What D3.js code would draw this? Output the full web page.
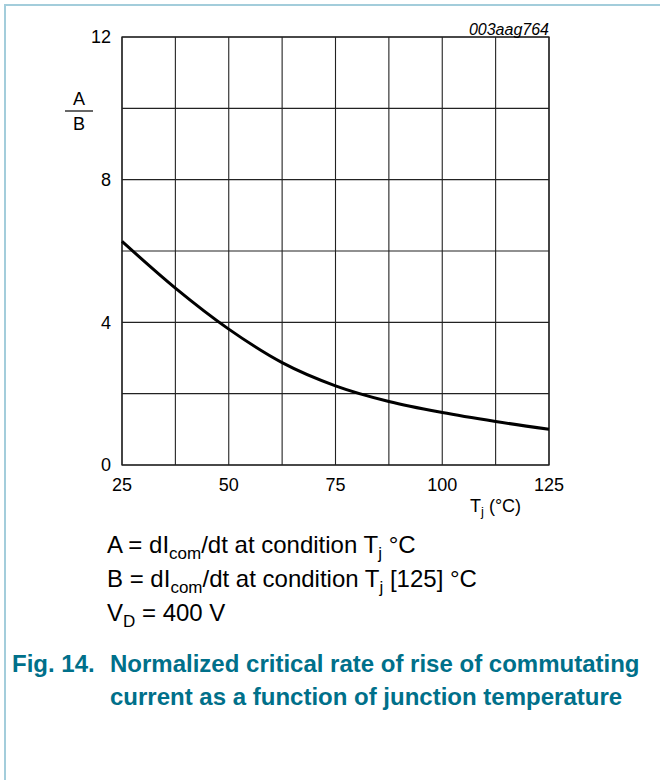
<!DOCTYPE html>
<html><head><meta charset="utf-8">
<script src="https://cdn.jsdelivr.net/npm/d3@7"></script>
<style>body{margin:0;background:#fff}svg{display:block}text{font-family:Arial,"Liberation Sans",sans-serif}</style>
</head><body>
<svg id="c" width="660" height="780"></svg>
<script>
const temps = [25, 37.5, 50, 62.5, 75, 87.5, 100, 112.5, 125];
const ratio = [6.27, 4.96, 3.81, 2.87, 2.22, 1.78, 1.47, 1.22, 1.0];
const xTickLabels = [25, 50, 75, 100, 125];
const yTickLabels = [0, 4, 8, 12];
const xGrid = [25, 37.5, 50, 62.5, 75, 87.5, 100, 112.5, 125];
const yGrid = [0, 2, 4, 6, 8, 10, 12];

const svg = d3.select("#c");
const L = 122, R = 549, T = 37, B = 465;
const x = d3.scaleLinear().domain([25, 125]).range([L, R]);
const y = d3.scaleLinear().domain([0, 12]).range([B, T]);

// page frame
svg.append("line").attr("x1", 4).attr("x2", 660).attr("y1", 5).attr("y2", 5).attr("stroke", "#a3cddb").attr("stroke-width", 2);
svg.append("line").attr("x1", 5).attr("x2", 5).attr("y1", 4).attr("y2", 780).attr("stroke", "#a3cddb").attr("stroke-width", 2);

// grid
svg.append("g").selectAll("line").data(xGrid).join("line")
  .attr("x1", d => x(d)).attr("x2", d => x(d)).attr("y1", T).attr("y2", B)
  .attr("stroke", "#222").attr("stroke-width", 1.1);
svg.append("g").selectAll("line").data(yGrid).join("line")
  .attr("x1", L).attr("x2", R).attr("y1", d => y(d)).attr("y2", d => y(d))
  .attr("stroke", "#222").attr("stroke-width", 1.1);
svg.append("rect").attr("x", L).attr("y", T).attr("width", R - L).attr("height", B - T)
  .attr("fill", "none").attr("stroke", "#222").attr("stroke-width", 1.3);

// tick labels
svg.append("g").selectAll("text").data(yTickLabels).join("text")
  .attr("x", L - 11).attr("y", d => y(d)).attr("dy", "0.36em").attr("text-anchor", "end")
  .attr("font-size", 18).text(d => d);
svg.append("g").selectAll("text").data(xTickLabels).join("text")
  .attr("x", d => x(d)).attr("y", 491).attr("text-anchor", "middle")
  .attr("font-size", 18).text(d => d);

// y label fraction
svg.append("text").attr("x", 79).attr("y", 105).attr("text-anchor", "middle").attr("font-size", 18).text("A");
svg.append("line").attr("x1", 65).attr("x2", 93).attr("y1", 111).attr("y2", 111).attr("stroke", "#000").attr("stroke-width", 1.2);
svg.append("text").attr("x", 79).attr("y", 130).attr("text-anchor", "middle").attr("font-size", 18).text("B");

// x label
const xl = svg.append("text").attr("x", 470).attr("y", 512).attr("font-size", 18);
xl.append("tspan").text("T");
xl.append("tspan").attr("font-size", 13).attr("dy", 4).text("j");
xl.append("tspan").attr("dy", -4).text(" (°C)");

// id
svg.append("text").attr("x", R).attr("y", 35).attr("text-anchor", "end").attr("font-size", 16)
  .attr("font-style", "italic").text("003aag764");

// curve
const pts = temps.map((t, i) => [t, ratio[i]]);
svg.append("path").datum(pts)
  .attr("d", d3.line().x(d => x(d[0])).y(d => y(d[1])).curve(d3.curveMonotoneX))
  .attr("fill", "none").attr("stroke", "#000").attr("stroke-width", 3);

// notes
function note(yy, parts) {
  const t = svg.append("text").attr("x", 107).attr("y", yy).attr("font-size", 24);
  let shift = 0;
  parts.forEach(p => {
    if (p.sub) {
      t.append("tspan").attr("font-size", 17).attr("dy", 6 - shift).text(p.sub);
      shift = 6;
    } else {
      t.append("tspan").attr("dy", -shift).text(p.t);
      shift = 0;
    }
  });
}
note(553, [{t: "A = dI"}, {sub: "com"}, {t: "/dt at condition T"}, {sub: "j"}, {t: " °C"}]);
note(587, [{t: "B = dI"}, {sub: "com"}, {t: "/dt at condition T"}, {sub: "j"}, {t: " [125] °C"}]);
note(621, [{t: "V"}, {sub: "D"}, {t: " = 400 V"}]);

// caption
const cap = "#00708a";
svg.append("text").attr("x", 12).attr("y", 672).attr("font-size", 24).attr("font-weight", "bold").attr("fill", cap).text("Fig. 14.");
svg.append("text").attr("x", 110).attr("y", 672).attr("font-size", 24).attr("font-weight", "bold").attr("fill", cap).text("Normalized critical rate of rise of commutating");
svg.append("text").attr("x", 110).attr("y", 705).attr("font-size", 24).attr("font-weight", "bold").attr("fill", cap).text("current as a function of junction temperature");
</script>
</body></html>
